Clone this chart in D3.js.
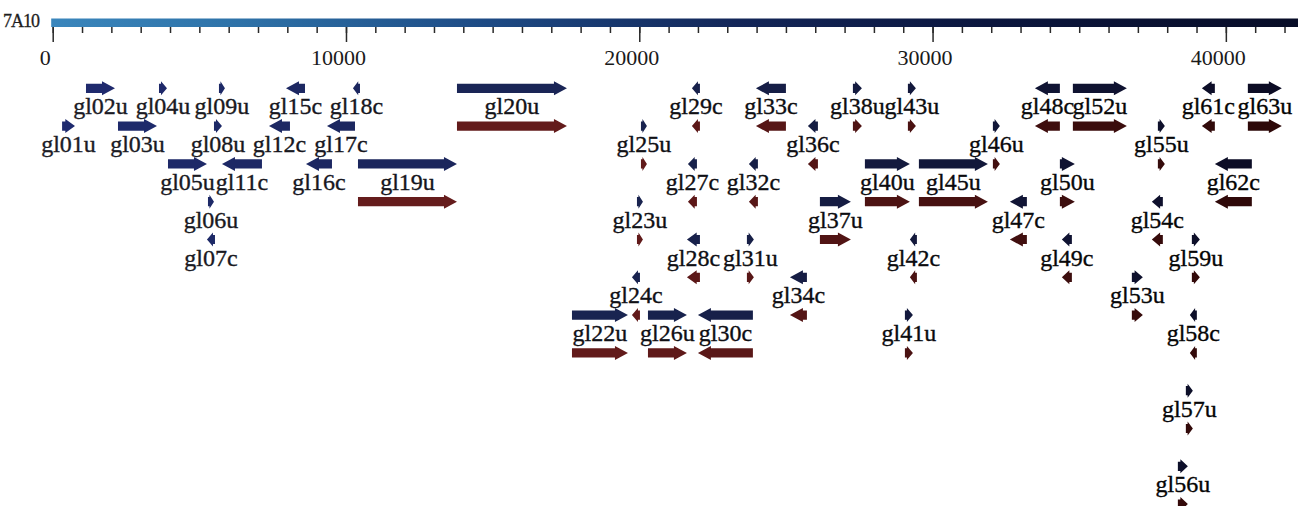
<!DOCTYPE html>
<html>
<head>
<meta charset="utf-8">
<script src="https://cdn.jsdelivr.net/npm/d3@7"></script>
<style>
  html, body { margin: 0; padding: 0; background: #ffffff; }
  svg { display: block; }
  svg text { font-family: "Liberation Serif", "DejaVu Serif", serif; }
</style>
</head>
<body>
<svg id="chart" width="1303" height="506"></svg>
<script>
// ---------------- data ----------------
const sequenceName = "7A10";
const sequenceLength = 42460;
const majorTickValues = [0, 10000, 20000, 30000, 40000];
const tickLabels = ["0", "10000", "20000", "30000", "40000"];

const geneNames = ["gl01u","gl02u","gl03u","gl04u","gl05u","gl06u","gl07c","gl08u","gl09u","gl11c",
  "gl12c","gl15c","gl16c","gl17c","gl18c","gl19u","gl20u","gl22u","gl24c","gl23u",
  "gl25u","gl26u","gl27c","gl28c","gl29c","gl30c","gl31u","gl32c","gl33c","gl34c",
  "gl36c","gl37u","gl38u","gl40u","gl41u","gl42c","gl43u","gl45u","gl46u","gl47c",
  "gl48c","gl49c","gl50u","gl52u","gl53u","gl54c","gl55u","gl56u","gl57u","gl58c",
  "gl59u","gl61c","gl62c","gl63u"];
const geneStarts = [320,1135,2226,3624,3931,5294,5260,5499,5669,5771,
  7374,7954,8636,9352,10238,10409,13784,17705,19750,19921,
  20057,20296,21659,21625,21795,21999,23670,23738,23977,25136,
  25750,26159,27284,27693,29057,29227,29159,29534,32057,32636,
  33489,34409,34341,34784,36795,37477,37682,38364,38636,38773,
  38841,39182,39625,40750];
const geneEnds = [760,2124,3556,3897,5260,5499,5533,5771,5873,7135,
  8090,8602,9522,10307,10477,13784,17534,19614,20023,20125,
  20261,21625,21966,22068,22068,23874,23908,24045,25000,25716,
  26091,27216,27591,29227,29330,29466,29432,31886,32295,33216,
  34341,34750,34852,36625,37170,37852,37920,38705,38875,39011,
  39114,39625,40886,41909];
// display track of each gene
const geneTracks = [1,0,1,0,2,3,4,1,0,2,
  1,0,2,1,0,2,0,6,5,3,
  1,6,2,4,0,6,4,2,0,5,
  1,3,0,2,6,4,0,2,1,3,
  0,4,2,0,5,3,1,10,8,6,
  4,0,2,0];
// genes that also have a matching second (red) feature
const pairedGenes = ["gl19u","gl20u","gl22u","gl24c","gl23u","gl25u","gl26u","gl27c","gl28c","gl29c",
  "gl30c","gl31u","gl32c","gl33c","gl34c","gl36c","gl37u","gl38u","gl40u","gl41u",
  "gl42c","gl43u","gl45u","gl46u","gl47c","gl48c","gl49c","gl50u","gl52u","gl53u",
  "gl54c","gl55u","gl56u","gl57u","gl58c","gl59u","gl61c","gl62c","gl63u"];

// ---------------- drawing ----------------
const svg = d3.select("#chart");
const x = d3.scaleLinear().domain([0, sequenceLength]).range([52.7, 1298]);
const trackY = d3.scaleLinear().domain([0, 1]).range([88.3, 126.1]);
const blueColor = d3.scaleLinear().domain([0, 20000, 42460])
  .range(["#1f2b70", "#19234f", "#0b0b22"]);
const redColor = d3.scaleLinear().domain([0, 20000, 42460])
  .range(["#6c1e1e", "#611a1a", "#2a0707"]);
const textColor = d3.scaleLinear().domain([0, 42460]).range(["#1c1c26", "#030303"]);

// ruler bar gradient
const defs = svg.append("defs");
const grad = defs.append("linearGradient").attr("id", "rulerGrad")
  .attr("x1", "0%").attr("x2", "100%").attr("y1", "0%").attr("y2", "0%");
[["0%", "#3a86bc"], ["15%", "#2e72a8"], ["35%", "#1d4a84"], ["55%", "#132658"], ["75%", "#0b163e"], ["100%", "#070c26"]]
  .forEach(([o, c]) => grad.append("stop").attr("offset", o).attr("stop-color", c));

svg.append("rect")
  .attr("x", x(0) - 1.5).attr("y", 18.5)
  .attr("width", x(sequenceLength) - x(0) + 1.5).attr("height", 8.5)
  .attr("fill", "url(#rulerGrad)");

svg.append("text")
  .attr("x", 3).attr("y", 27)
  .attr("font-size", 18).attr("fill", "#1e1e1e")
  .attr("letter-spacing", "-1")
  .attr("stroke", "#1e1e1e").attr("stroke-width", 0.3)
  .text(sequenceName);

// minor ticks
const minorAxis = d3.axisBottom(x)
  .tickValues(d3.range(0, sequenceLength, 1000))
  .tickSize(6).tickFormat("");
const gMinor = svg.append("g").attr("transform", "translate(0,27)").call(minorAxis);
gMinor.select(".domain").remove();
gMinor.selectAll("line").attr("stroke", "#2a2a2a").attr("stroke-width", 1.5);

// major ticks
const majorAxis = d3.axisBottom(x)
  .tickValues(majorTickValues)
  .tickSize(15).tickPadding(8)
  .tickFormat((d, i) => tickLabels[i]);
const gMajor = svg.append("g").attr("transform", "translate(0,27)").call(majorAxis);
gMajor.select(".domain").remove();
gMajor.selectAll("line").attr("stroke", "#2a2a2a").attr("stroke-width", 1.5);
gMajor.selectAll("text")
  .style("font-family", "'Liberation Serif', 'DejaVu Serif', serif")
  .attr("font-size", 22).attr("fill", "#1a1a1a")
  .attr("dx", -8).attr("dy", 0).attr("y", 38);

// gene arrows
function arrowPath(x0, x1, y, forward) {
  const w = Math.max(x1 - x0, 4);
  const hl = w < 13 ? w * 0.75 : 13;
  const bh = 4.6, hh = 7;
  let pts;
  if (forward) {
    pts = [[x0, y - bh], [x0 + w - hl, y - bh], [x0 + w - hl, y - hh], [x0 + w, y],
           [x0 + w - hl, y + hh], [x0 + w - hl, y + bh], [x0, y + bh]];
  } else {
    pts = [[x0 + w, y - bh], [x0 + hl, y - bh], [x0 + hl, y - hh], [x0, y],
           [x0 + hl, y + hh], [x0 + hl, y + bh], [x0 + w, y + bh]];
  }
  return "M" + pts.map(p => p[0].toFixed(2) + "," + p[1].toFixed(2)).join("L") + "Z";
}

const genes = geneNames.map((name, i) => ({
  name, start: geneStarts[i], end: geneEnds[i], track: geneTracks[i],
  forward: name.endsWith("u"), paired: pairedGenes.includes(name)
}));

const g = svg.append("g");
const geneG = g.selectAll("g.gene").data(genes).join("g").attr("class", "gene");

geneG.filter(d => d.paired).append("path")
  .attr("d", d => arrowPath(x(d.start), x(d.end), trackY(d.track + 1), d.forward))
  .attr("fill", d => redColor((d.start + d.end) / 2));

geneG.append("path")
  .attr("d", d => arrowPath(x(d.start), x(d.end), trackY(d.track), d.forward))
  .attr("fill", d => blueColor((d.start + d.end) / 2));

geneG.append("text")
  .attr("x", d => x((d.start + d.end) / 2))
  .attr("y", d => trackY(d.track) + 26)
  .attr("text-anchor", "middle")
  .attr("font-size", 24)
  .attr("fill", d => textColor((d.start + d.end) / 2))
  .attr("stroke", d => textColor((d.start + d.end) / 2))
  .attr("stroke-width", 0.35)
  .text(d => d.name);
</script>
</body>
</html>
